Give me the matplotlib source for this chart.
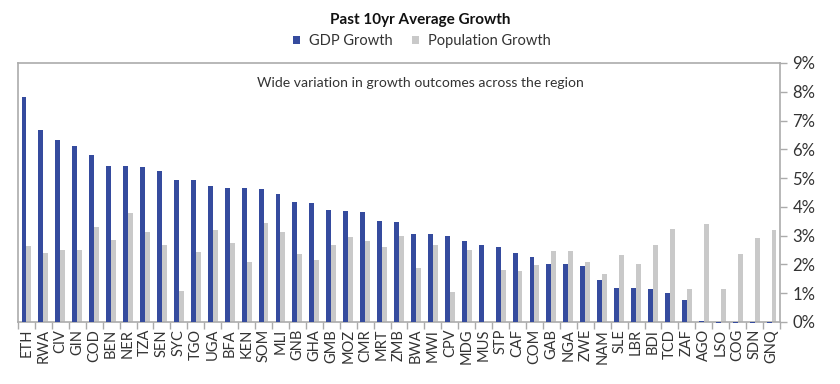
import matplotlib.pyplot as plt
import numpy as np
from matplotlib.ticker import FuncFormatter, FixedLocator

plt.rcParams['font.family'] = ['Lato', 'DejaVu Sans']

countries = ["ETH", "RWA", "CIV", "GIN", "COD", "BEN", "NER", "TZA", "SEN", "SYC",
             "TGO", "UGA", "BFA", "KEN", "SOM", "MLI", "GNB", "GHA", "GMB", "MOZ",
             "CMR", "MRT", "ZMB", "BWA", "MWI", "CPV", "MDG", "MUS", "STP", "CAF",
             "COM", "GAB", "NGA", "ZWE", "NAM", "SLE", "LBR", "BDI", "TCD", "ZAF",
             "AGO", "LSO", "COG", "SDN", "GNQ"]

gdp_growth = [7.82, 6.67, 6.32, 6.11, 5.81, 5.43, 5.43, 5.38, 5.26, 4.94,
              4.92, 4.72, 4.66, 4.64, 4.63, 4.44, 4.18, 4.14, 3.89, 3.86,
              3.81, 3.52, 3.48, 3.07, 3.07, 2.98, 2.83, 2.68, 2.61, 2.39,
              2.27, 2.03, 2.03, 1.93, 1.47, 1.19, 1.19, 1.16, 1.02, 0.77,
              0.05, -0.05, -0.05, -0.05, -0.05]

pop_growth = [2.65, 2.39, 2.51, 2.49, 3.31, 2.85, 3.77, 3.13, 2.68, 1.09,
              2.44, 3.20, 2.76, 2.08, 3.45, 3.13, 2.37, 2.15, 2.66, 2.95,
              2.80, 2.61, 2.99, 1.88, 2.67, 1.03, 2.51, 0.0, 1.80, 1.78,
              1.97, 2.48, 2.48, 2.07, 1.67, 2.34, 2.02, 2.66, 3.24, 1.15,
              3.40, 1.16, 2.36, 2.91, 3.21]

blue = "#354B9E"
grey = "#C9C9C9"
axis_grey = "#ABABAB"
text_col = "#333333"

fig = plt.figure(figsize=(8.4, 3.84), dpi=100)
ax = fig.add_axes([0.0214, 0.1615, 0.9072, 0.6745])

x = np.arange(len(countries))
w = 0.29
ax.bar(x - w / 2, gdp_growth, width=w, color=blue, label="GDP Growth", clip_on=False, zorder=3)
ax.bar(x + w / 2, pop_growth, width=w, color=grey, label="Population Growth", clip_on=False, zorder=2)

ax.set_xlim(-0.5, len(countries) - 0.5)
ax.set_ylim(0, 9)

# y axis on the right
ax.yaxis.tick_right()
ax.set_yticks(range(0, 10))
ax.yaxis.set_major_formatter(FuncFormatter(lambda v, p: "{:.0f}%".format(v)))
ax.tick_params(axis="y", which="major", length=5, color=axis_grey, labelsize=12,
               labelcolor=text_col, pad=4, width=1)

# category ticks: boundaries get tick marks, centres get the labels
ax.xaxis.set_major_locator(FixedLocator(np.arange(-0.5, len(countries), 1.0)))
ax.xaxis.set_major_formatter(FuncFormatter(lambda v, p: ""))
ax.xaxis.set_minor_locator(FixedLocator(x))
ax.set_xticklabels(countries, minor=True, rotation=90, fontsize=10.5, color=text_col)
ax.tick_params(axis="x", which="major", length=5, color=axis_grey, width=1)
ax.tick_params(axis="x", which="minor", length=0, pad=5)

for s in ax.spines.values():
    s.set_color(axis_grey)
    s.set_linewidth(1.2)

ax.text(0.528, 0.923, "Wide variation in growth outcomes across the region",
        transform=ax.transAxes, ha="center", va="center", fontsize=10.1, color=text_col)

fig.text(0.5, 0.948, "Past 10yr Average Growth", ha="center", va="center",
         fontsize=11, fontweight="bold", color="#111111")

handles, labels = ax.get_legend_handles_labels()
fig.legend(handles, labels, loc="center", bbox_to_anchor=(0.502, 0.893), ncol=2, frameon=False,
           fontsize=10.5, handlelength=0.5, handleheight=0.5, handletextpad=0.6,
           columnspacing=1.3, labelcolor=text_col)

fig.savefig("out.png", dpi=100)
